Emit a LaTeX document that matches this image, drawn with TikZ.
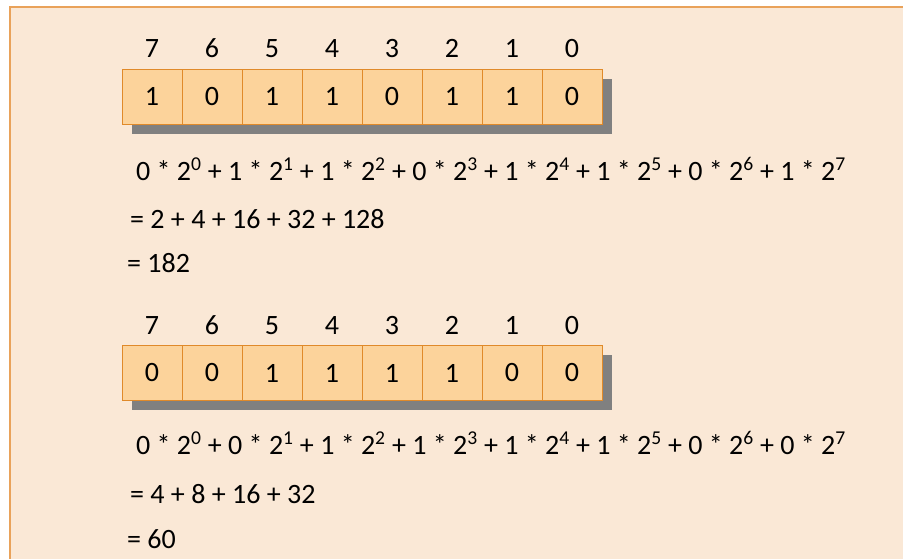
\documentclass[tikz,border=0pt]{standalone}
\usepackage{fontspec}
\setmainfont{Carlito}
\definecolor{panelbg}{HTML}{FAE8D6}
\definecolor{panelline}{HTML}{E9A25A}
\definecolor{cellfill}{HTML}{FCD39B}
\definecolor{cellline}{HTML}{E08A2A}
\definecolor{shadowgray}{HTML}{808080}
\newcommand{\pw}[1]{2\textsuperscript{#1}}
\tikzset{
  cell/.style={draw=cellline, fill=cellfill, line width=1pt,
    minimum width=60pt, minimum height=55pt, inner sep=0pt},
  idx/.style={inner sep=0pt, anchor=base},
  sumline/.style={inner sep=0pt, anchor=base west},
}
\begin{document}
\begin{tikzpicture}[x=1pt, y=-1pt, font=\fontsize{28}{34}\selectfont]
\fill[white] (0,0) rectangle (903,558);
\clip (0,0) rectangle (903,558);
\draw[panelline, fill=panelbg, line width=1.2pt] (10,7) rectangle (920,575);
% first byte: 182
\fill[shadowgray] (132,79) rectangle (612,134);
\foreach \b [count=\i from 0] in {1,0,1,1,0,1,1,0} {
  \pgfmathtruncatemacro{\n}{7-\i}
  \node[cell] (a\n) at (152+60*\i, 96.5) {\b};
  \node[idx] (ai\n) at (152+60*\i, 57) {\n};
}
\node[sumline] (s1) at (136,180) {0 * \pw{0} + 1 * \pw{1} + 1 * \pw{2} + 0 * \pw{3} + 1 * \pw{4} + 1 * \pw{5} + 0 * \pw{6} + 1 * \pw{7}};
\node[sumline] (t1) at (130,228) {= 2 + 4 + 16 + 32 + 128};
\node[sumline] (r1) at (127,272) {= 182};
% second byte: 60
\fill[shadowgray] (132,355) rectangle (612,410);
\foreach \b [count=\i from 0] in {0,0,1,1,1,1,0,0} {
  \pgfmathtruncatemacro{\n}{7-\i}
  \node[cell] (b\n) at (152+60*\i, 373) {\b};
  \node[idx] (bi\n) at (152+60*\i, 334) {\n};
}
\node[sumline] (s2) at (136,454) {0 * \pw{0} + 0 * \pw{1} + 1 * \pw{2} + 1 * \pw{3} + 1 * \pw{4} + 1 * \pw{5} + 0 * \pw{6} + 0 * \pw{7}};
\node[sumline] (t2) at (130,503) {= 4 + 8 + 16 + 32};
\node[sumline] (r2) at (127,548) {= 60};
\end{tikzpicture}
\end{document}
